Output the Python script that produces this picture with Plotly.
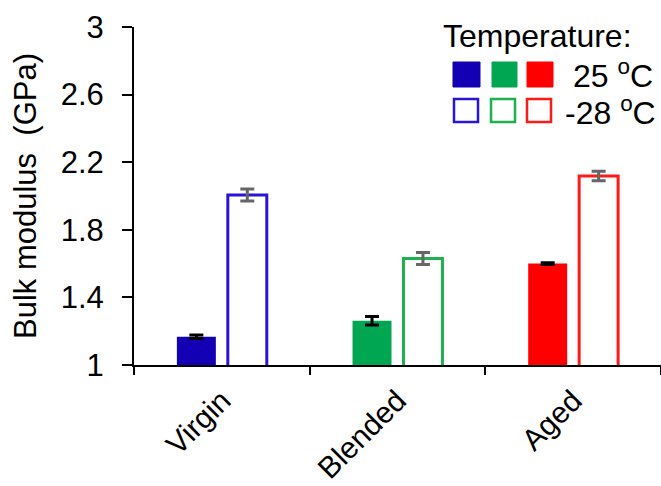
import plotly.graph_objects as go

categories = ["Virgin", "Blended", "Aged"]
vals_25 = [1.167, 1.262, 1.600]
err_25 = [0.010, 0.025, 0.005]
vals_m28 = [2.006, 1.630, 2.118]
err_m28 = [0.035, 0.035, 0.028]
fill_colors = ["#1400B4", "#00A651", "#FF0000"]
line_colors = ["#2A14D8", "#1FB050", "#FF1A1A"]
y_ticks = [1, 1.4, 1.8, 2.2, 2.6, 3]
y_ticklabels = ["1", "1.4", "1.8", "2.2", "2.6", "3"]

W, H = 661, 486
ML, MR, MT, MB = 134, 0, 27, 121
FONT = "Liberation Sans, Arial, sans-serif"
FS = 32

fig = go.Figure()
fig.add_trace(go.Bar(
    x=categories, y=vals_25,
    marker=dict(color=fill_colors, line=dict(color=fill_colors, width=0)),
    error_y=dict(type="data", array=err_25, color="#000000", thickness=3, width=7),
    showlegend=False,
))
fig.add_trace(go.Bar(
    x=categories, y=vals_m28,
    marker=dict(color="white", line=dict(color=line_colors, width=3)),
    error_y=dict(type="data", array=err_m28, color="#666666", thickness=3, width=7),
    showlegend=False,
))

pw = W - ML - MR
ph = H - MT - MB


def px(x):
    return (x - ML) / pw


def py(y):
    return (H - MB - y) / ph


shapes = []
for i in range(3):
    x0s = [453, 492, 527][i]
    x1s = [480, 517, 553][i]
    shapes.append(dict(type="rect", xref="paper", yref="paper",
                       x0=px(x0s), x1=px(x1s), y0=py(87), y1=py(62),
                       fillcolor=fill_colors[i], line=dict(color=fill_colors[i], width=1)))
    x0o = [454, 491, 527][i]
    x1o = [478, 515, 551][i]
    shapes.append(dict(type="rect", xref="paper", yref="paper",
                       x0=px(x0o), x1=px(x1o), y0=py(122), y1=py(99),
                       fillcolor="white", line=dict(color=line_colors[i], width=2.5)))

annotations = [
    dict(text="Temperature:", xref="paper", yref="paper", x=px(634), y=py(36),
         xanchor="right", yanchor="middle", showarrow=False,
         font=dict(size=FS, color="black", family=FONT)),
    dict(text="25 <sup>o</sup>C", xref="paper", yref="paper", x=px(655), y=py(74),
         xanchor="right", yanchor="middle", showarrow=False,
         font=dict(size=FS, color="black", family=FONT)),
    dict(text="-28 <sup>o</sup>C", xref="paper", yref="paper", x=px(658), y=py(111),
         xanchor="right", yanchor="middle", showarrow=False,
         font=dict(size=FS, color="black", family=FONT)),
]

fig.update_layout(
    width=W, height=H,
    margin=dict(l=ML, r=MR, t=MT, b=MB, pad=0, autoexpand=False),
    paper_bgcolor="white", plot_bgcolor="white",
    barmode="group", bargap=0.42, bargroupgap=0.235,
    font=dict(family=FONT, color="black"),
    shapes=shapes, annotations=annotations,
    xaxis=dict(
        showline=True, linecolor="black", linewidth=2, automargin=False,
        ticks="outside", tickson="boundaries", ticklen=8, tickwidth=2, tickcolor="black",
        tickangle=-45, tickfont=dict(size=30, family=FONT), ticklabelstandoff=4,
        showgrid=False, zeroline=False,
    ),
    yaxis=dict(
        range=[1, 3], tickvals=y_ticks, ticktext=y_ticklabels, automargin=False,
        showline=True, linecolor="black", linewidth=2,
        ticks="outside", ticklen=10, tickwidth=2, tickcolor="black",
        tickfont=dict(size=FS - 1, family=FONT), ticklabelstandoff=12,
        showgrid=False, zeroline=False,
        title=dict(text="Bulk modulus  (GPa)", font=dict(size=FS - 1, family=FONT), standoff=15),
    ),
)

fig.write_html(
    "out.html",
    config={"displayModeBar": False},
    post_script="document.body.style.margin='0';document.body.style.overflow='hidden';",
)
